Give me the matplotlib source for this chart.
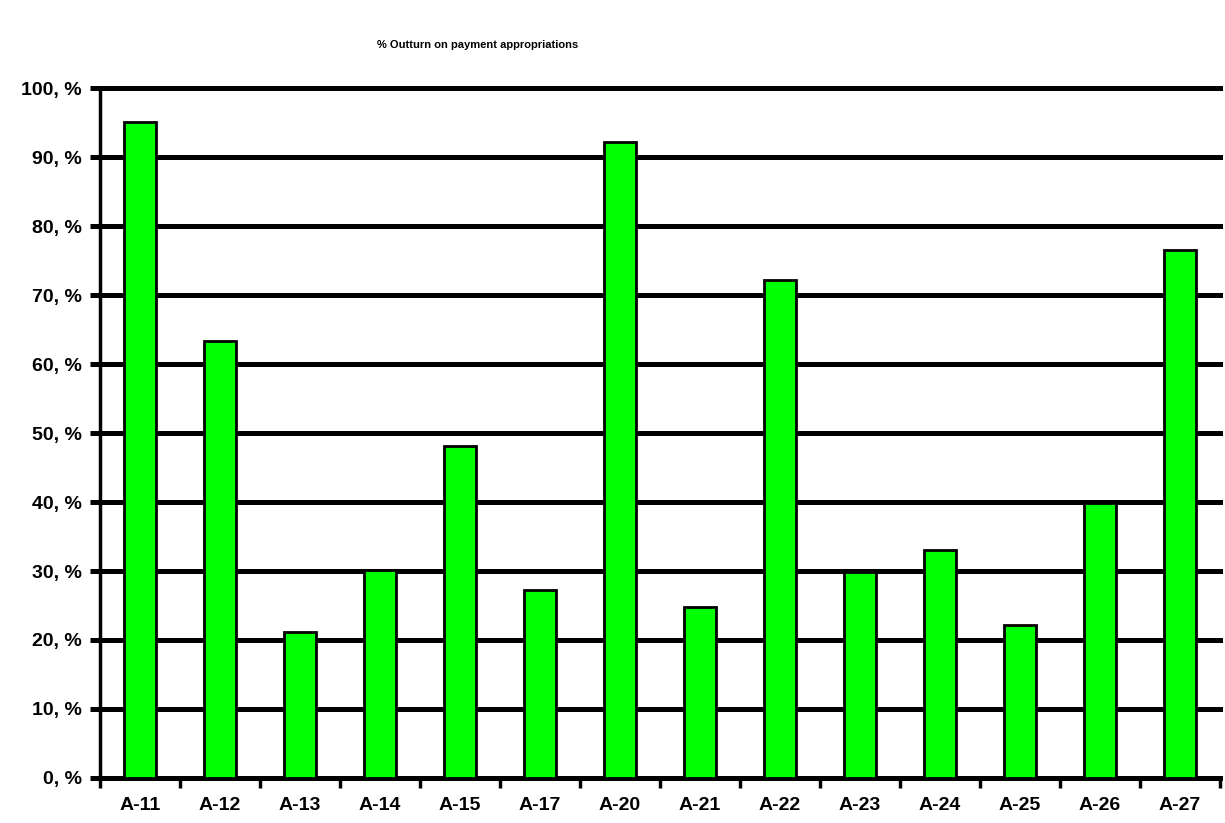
import numpy as np
import matplotlib.pyplot as plt
from matplotlib.ticker import FixedLocator

plt.rcParams['font.family'] = ['Liberation Sans', 'DejaVu Sans']

categories = ['A-11', 'A-12', 'A-13', 'A-14', 'A-15', 'A-17', 'A-20',
              'A-21', 'A-22', 'A-23', 'A-24', 'A-25', 'A-26', 'A-27']
outturn = [95.1, 63.3, 21.2, 30.1, 48.1, 27.2, 92.2,
           24.8, 72.2, 29.9, 33.1, 22.2, 39.8, 76.5]
yticks = [0, 10, 20, 30, 40, 50, 60, 70, 80, 90, 100]
ytick_labels = ['%d, %%' % v for v in yticks]

fig = plt.figure(figsize=(12.25, 8.23), dpi=100)
ax = fig.add_axes([0.0816, 0.0547, 0.9144, 0.8383])

x = np.arange(len(categories))
ax.bar(x, outturn, width=0.41, color='#00FF00', edgecolor='black',
       linewidth=2, zorder=3)

ax.set_xlim(-0.5, len(categories) - 0.5)
ax.set_ylim(0, 100)
ax.set_yticks(yticks)
ax.set_yticklabels(ytick_labels, fontsize=14, fontweight='bold')
ax.yaxis.grid(True, color='black', linewidth=3.6, zorder=1)
for line in ax.get_ygridlines():
    line.set_clip_on(False)
ax.set_axisbelow(True)

ax.set_xticks(x)
ax.set_xticklabels(categories, fontsize=14, fontweight='bold')
ax.tick_params(axis='x', which='major', length=0, pad=14)
ax.xaxis.set_minor_locator(FixedLocator(np.arange(-0.5, len(categories), 1.0)))
ax.tick_params(axis='x', which='minor', length=7, width=2.5, direction='out')
ax.tick_params(axis='y', length=7, width=3.6, pad=6)

for side in ['top', 'right']:
    ax.spines[side].set_visible(False)
ax.spines['left'].set_linewidth(2.5)
ax.spines['bottom'].set_linewidth(2.5)

fig.text(0.39, 0.945, '% Outturn on payment appropriations', fontsize=8,
         fontweight='bold', ha='center', va='center')

fig.savefig('out.png', dpi=100)
